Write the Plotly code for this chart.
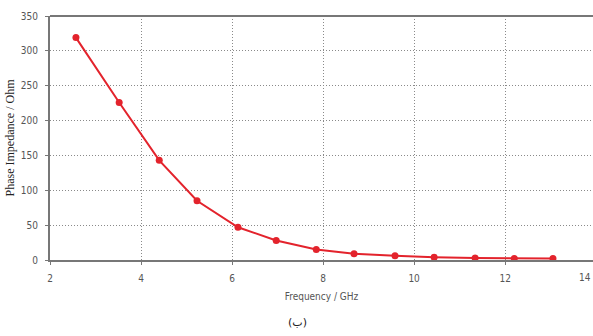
import plotly.graph_objects as go

freq_ghz = [2.57, 3.52, 4.40, 5.23, 6.13, 6.97, 7.85, 8.68, 9.58, 10.44, 11.34, 12.20, 13.05]
impedance = [319, 226, 143, 85, 47, 28, 15, 9, 6, 4, 3, 2, 2]
x_ticks = [2, 4, 6, 8, 10, 12]
y_ticks = [0, 50, 100, 150, 200, 250, 300, 350]

fig = go.Figure()
fig.add_trace(go.Scatter(
    x=freq_ghz, y=impedance, mode="lines+markers",
    line=dict(color="#e3232c", width=2),
    marker=dict(color="#e3232c", size=7, symbol="circle"),
    showlegend=False, cliponaxis=False,
))

tick_font = dict(family="Liberation Sans Narrow, Arial Narrow, DejaVu Sans Condensed", size=10, color="#555555")

fig.update_layout(
    width=593, height=336,
    margin=dict(l=50, r=0, t=16, b=76),
    paper_bgcolor="white", plot_bgcolor="white",
    xaxis=dict(
        range=[2, 13.93], tickvals=x_ticks, ticktext=[str(v) for v in x_ticks],
        showgrid=True, gridcolor="#8a8a8a", griddash="1px,2px", gridwidth=1,
        showline=True, linecolor="#777777", linewidth=2, mirror=False,
        ticks="outside", ticklen=3, tickcolor="#777777", ticklabelstandoff=5,
        tickfont=tick_font, zeroline=False,
        title=dict(text="Frequency / GHz", font=tick_font, standoff=10),
    ),
    yaxis=dict(
        range=[0, 350], tickvals=y_ticks,
        showgrid=True, gridcolor="#8a8a8a", griddash="1px,2px", gridwidth=1,
        showline=True, linecolor="#777777", linewidth=2, mirror=False,
        ticks="outside", ticklen=3, tickcolor="#777777", ticklabelstandoff=5,
        tickfont=tick_font, zeroline=False,
        title=dict(text="Phase Impedance / Ohm",
                   font=dict(family="Liberation Serif, Times New Roman, serif", size=12, color="#222222"),
                   standoff=4),
    ),
    annotations=[
        dict(text="14", x=1.0, y=0, xref="paper", yref="paper", yanchor="top", yshift=-10,
             xanchor="right", showarrow=False, font=tick_font),
        dict(text="(ب)", x=0.455, y=-0.22, xref="paper", yref="paper", xanchor="center",
             yanchor="top", showarrow=False,
             font=dict(family="DejaVu Sans, Noto Sans", size=11, color="#222222")),
    ],
)
fig.add_shape(type="line", xref="paper", yref="paper", x0=0, x1=1.01, y0=1, y1=1,
              line=dict(color="#777777", width=2))

fig.write_html("out.html")
